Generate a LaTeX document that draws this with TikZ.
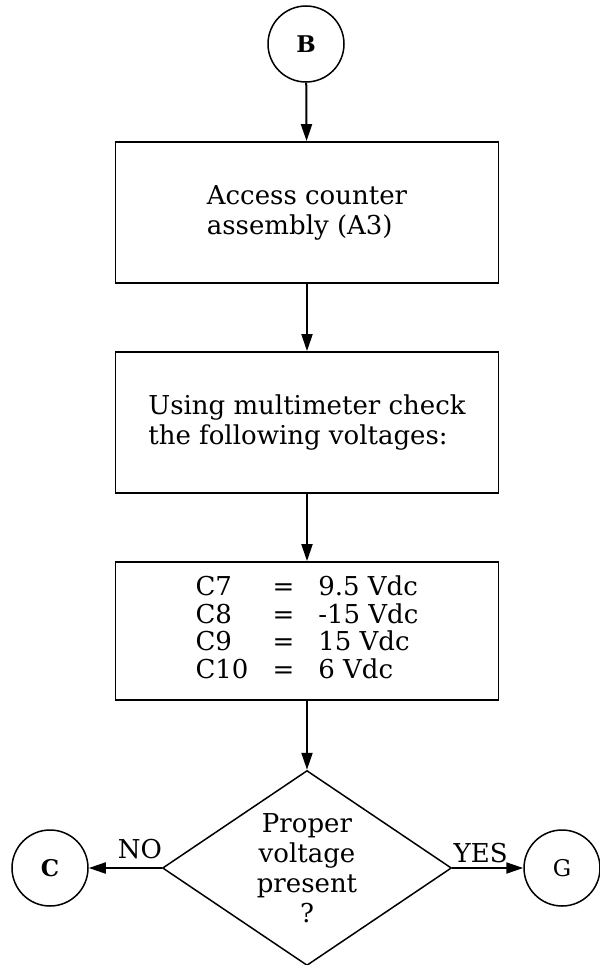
\documentclass[tikz,border=0pt]{standalone}
\usepackage{fontspec}
\setmainfont{DejaVu Serif}
\usetikzlibrary{positioning, shapes.geometric, arrows.meta}

\begin{document}
\begin{tikzpicture}[
  x=1pt, y=-1pt,
  font=\fontsize{26}{30}\selectfont,
  box/.style={draw, rectangle, line width=1.8pt, minimum width=383pt,
              minimum height=141pt, align=left, inner sep=3pt},
  conn/.style={draw, circle, line width=1.5pt, minimum size=76pt,
               inner sep=0pt, font=\fontsize{23}{23}\selectfont},
  decide/.style={draw, diamond, line width=1.5pt, minimum width=289pt,
                 minimum height=195pt, aspect=1.48, inner sep=0pt,
                 align=center},
  arr/.style={-{Triangle[length=17pt,width=11pt]}, line width=2pt},
]
\useasboundingbox (0,0) rectangle (599,965);
%% Entry connector
\node[conn] at (306,44) (b) {\textbf{B}};
%% Steps
\node[box] at (307,212.5) (access) {Access counter\\assembly (A3)};
\node[box] at (307,422.5) (measure) {Using multimeter check\\the following voltages:};
\node[box, minimum height=138pt, font=\fontsize{26}{26}\selectfont] at (307,631) (volts) {%
  \begin{tabular}{@{}l@{\hspace{24pt}}l@{\hspace{24pt}}l@{}}
    C7  & = & 9.5 Vdc\\
    C8  & = & -15 Vdc\\
    C9  & = & 15 Vdc\\
    C10 & = & 6 Vdc
  \end{tabular}};
%% Decision
\node[decide] at (307,868) (check) {Proper\\voltage\\present\\?};
\node[conn] at (50,868)  (c) {\textbf{C}};
\node[conn] at (562,868) (g) {G};
\draw[arr] (b) -- (access);
\draw[arr] (access)  -- (measure);
\draw[arr] (measure) -- (volts);
\draw[arr] (volts)   -- (check);
\draw[arr] (check.west) -- node[pos=0.3, above=5pt]{NO} (c);
\draw[arr] (check.east) -- node[pos=0.4, above=1pt]{YES} (g);
\end{tikzpicture}
\end{document}
